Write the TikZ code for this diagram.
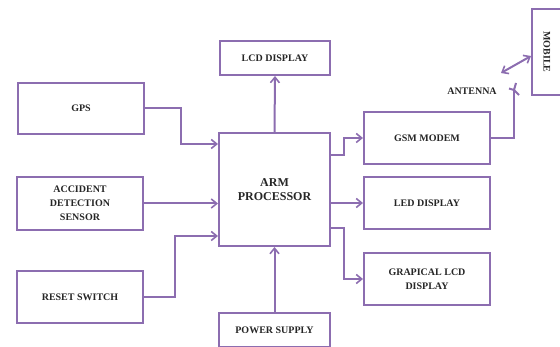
\documentclass[tikz,border=0pt]{standalone}
\usepackage{fontspec}
\setmainfont{Liberation Serif}
\usetikzlibrary{arrows.meta}
\definecolor{bl}{HTML}{8C6DB0}
\tikzset{
 blk/.style={draw=bl,line width=2pt,fill=white,inner sep=0pt,align=center,font=\fontsize{10pt}{14pt}\selectfont\bfseries,text=black!85},
 conn/.style={draw=bl,line width=2pt,-{Straight Barb[length=5.5pt,width=9pt,line width=1.6pt]}},
 plain/.style={draw=bl,line width=2pt},
 dbl/.style={draw=bl,line width=2pt,{Straight Barb[length=5.5pt,width=9pt,line width=1.6pt]}-{Straight Barb[length=5.5pt,width=9pt,line width=1.6pt]}}
}
\newcommand{\bx}[6][]{\node[blk,minimum width=#4pt,minimum height=#5pt,#1] (#2) at (#3) {#6};}
\begin{document}
\begin{tikzpicture}[x=1pt,y=-1pt]
\useasboundingbox (0,0) rectangle (560,347);
\bx{gps}{81,108.5}{126}{51}{GPS}
\bx{acc}{80,203.5}{126}{53}{ACCIDENT\\DETECTION\\SENSOR}
\bx{rst}{80,297}{126}{52}{RESET SWITCH}
\bx{arm}{274.5,189.5}{111}{113}{\fontsize{12pt}{17pt}\selectfont ARM\\\fontsize{12pt}{17pt}\selectfont PROCESSOR}
\bx{lcd}{275,58}{110}{34}{LCD DISPLAY}
\bx{pwr}{274.5,330}{111}{34}{POWER SUPPLY}
\bx{gsm}{427,138}{126}{52}{GSM MODEM}
\bx{led}{427,203}{126}{52}{LED DISPLAY}
\bx{gfx}{427,279}{126}{52}{GRAPICAL LCD\\DISPLAY}
\bx{mob}{562,52}{60}{86}{}
\node[font=\fontsize{10pt}{10pt}\selectfont\bfseries,text=black!85,rotate=-90,inner sep=0pt] (moblbl) at (547,52) {MOBILE};
\node[font=\fontsize{10pt}{10pt}\selectfont\bfseries,text=black!85,inner sep=0pt] (ant) at (472,91) {ANTENNA};
\coordinate (g1) at (gps.east);
\draw[conn] (g1) -| (181,144) -- (arm.west |- 0,144);
\draw[conn] (acc.east) -- (arm.west |- acc.east);
\draw[conn] (rst.east) -| (175,236) -- (arm.west |- 0,236);
\draw[conn] (pwr.north) -- (arm.south);
\draw[conn] (arm.north) -- (lcd.south);
\draw[conn] (arm.east |- 0,155) -- (344,155) |- (gsm.west);
\draw[conn] (arm.east |- led.west) -- (led.west);
\draw[conn] (arm.east |- 0,228) -- (344,228) |- (gfx.west);
\coordinate (tip) at (514,90);
\coordinate (armA) at (509,88.5);
\coordinate (armB) at (519,95);
\coordinate (armC) at (516,83);
\draw[plain] (gsm.east) -| (tip);
\draw[plain] (armA) -- (tip) -- (armC);
\draw[plain] (tip) -- (armB);
\coordinate (d1) at (501,73);
\coordinate (d2) at (mob.west |- 0,56);
\draw[dbl] (d1) -- (d2);
\end{tikzpicture}
\end{document}
